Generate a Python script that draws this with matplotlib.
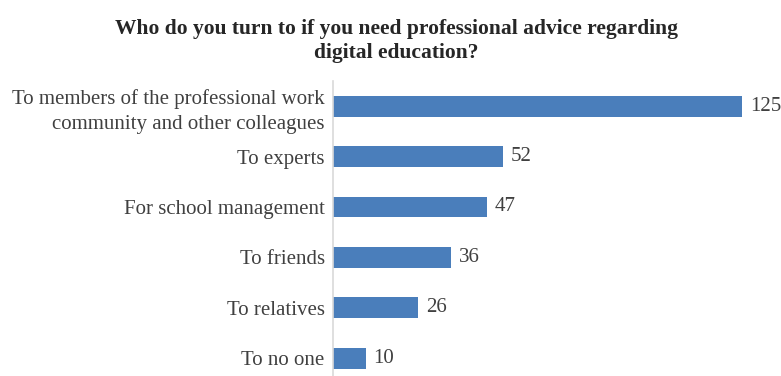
import matplotlib.pyplot as plt

# Survey answers, listed top to bottom
categories = [
    "To members of the professional work\ncommunity and other colleagues",
    "To experts",
    "For school management",
    "To friends",
    "To relatives",
    "To no one",
]
counts = [125, 52, 47, 36, 26, 10]

title = ("Who do you turn to if you need professional advice regarding\n"
         "digital education?")

plt.rcParams['font.family'] = ['Liberation Serif', 'DejaVu Serif']

fig = plt.figure(figsize=(7.81, 3.76), dpi=100)
ax = fig.add_axes([0.4264, -0.0197, 0.545, 0.8043])

ypos = list(range(len(categories)))
ax.barh(ypos, counts, height=0.41, color='#4a7ebb')
ax.set_ylim(len(categories) - 0.5, -0.5)
ax.set_xlim(0, 130)

ax.set_yticks(ypos)
ax.set_yticklabels(categories, fontsize=15, color='#404040', linespacing=1.4)
ax.tick_params(axis='y', length=0, pad=6)
ax.set_xticks([])

for y, v in zip(ypos, counts):
    ax.text(v + 2.4, y, str(v), va='center', ha='left', fontsize=15,
            color='#404040', clip_on=False)

for side in ['top', 'right', 'bottom']:
    ax.spines[side].set_visible(False)
ax.spines['left'].set_color('#d9d9d9')
ax.spines['left'].set_linewidth(1.2)

fig.text(0.508, 0.95, title, ha='center', va='top', fontsize=15.5,
         fontweight='bold', color='#262626', linespacing=1.3)

fig.savefig('out.png', dpi=100)
